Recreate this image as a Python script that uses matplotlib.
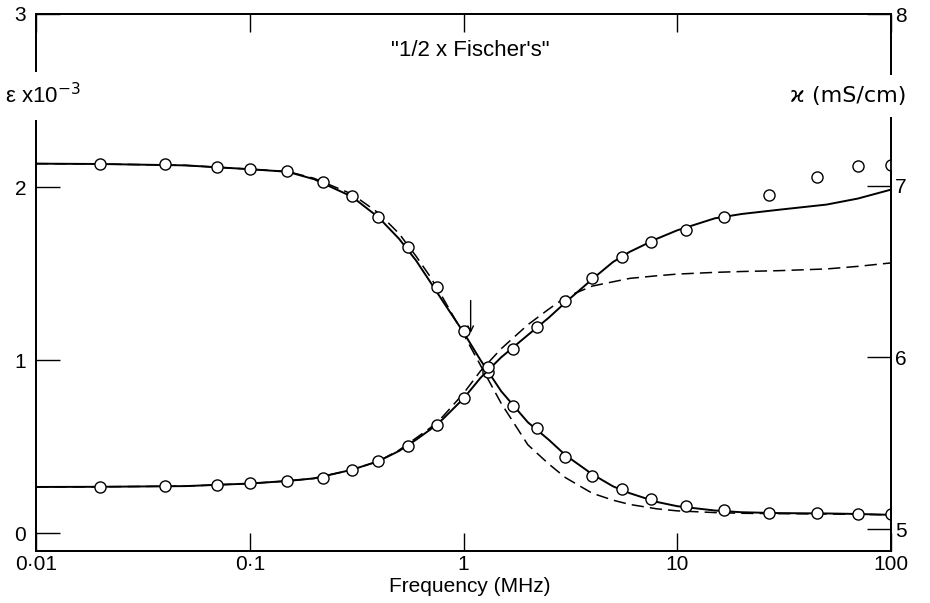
import numpy as np
import matplotlib.pyplot as plt

plt.rcParams['font.family'] = ['Liberation Sans', 'DejaVu Sans']

# measured points (frequency in MHz)
freq_pts = [0.02, 0.04, 0.07, 0.1, 0.15, 0.22, 0.3, 0.4, 0.55, 0.75, 1.0, 1.3,
            1.7, 2.2, 3.0, 4.0, 5.5, 7.5, 11, 16.5, 27, 45, 70, 100]
eps_pts = [2.133, 2.133, 2.116, 2.104, 2.092, 2.029, 1.948, 1.827, 1.653, 1.422, 1.168, 0.931,
           0.734, 0.607, 0.44, 0.33, 0.253, 0.196, 0.158, 0.133, 0.114, 0.114, 0.11, 0.11]
kappa_pts = [5.246, 5.250, 5.254, 5.269, 5.277, 5.297, 5.343, 5.395, 5.483, 5.605, 5.762, 5.942,
             6.047, 6.174, 6.326, 6.465, 6.587, 6.674, 6.744, 6.820, 6.948, 7.052, 7.116, 7.122]

# fitted curves
freq_fit = [0.01, 0.02, 0.05, 0.1, 0.15, 0.2, 0.3, 0.4, 0.5, 0.6, 0.7, 0.8, 1.0, 1.2, 1.5,
            2, 2.5, 3, 4, 5, 6, 8, 10, 15, 20, 30, 50, 70, 100]
eps_solid = [2.135, 2.133, 2.125, 2.103, 2.088, 2.045, 1.945, 1.825, 1.70, 1.575, 1.45, 1.34, 1.16, 1.00, 0.82,
             0.64, 0.54, 0.45, 0.34, 0.27, 0.23, 0.18, 0.155, 0.13, 0.12, 0.115, 0.113, 0.11, 0.105]
eps_dashed = [2.135, 2.133, 2.125, 2.103, 2.09, 2.05, 1.96, 1.85, 1.73, 1.60, 1.48, 1.36, 1.15, 0.97, 0.75,
              0.51, 0.40, 0.32, 0.23, 0.19, 0.165, 0.14, 0.128, 0.118, 0.114, 0.112, 0.11, 0.108, 0.105]
kappa_solid = [5.245, 5.246, 5.25, 5.265, 5.28, 5.295, 5.345, 5.395, 5.455, 5.52, 5.58, 5.64, 5.76, 5.88, 6.0,
               6.13, 6.23, 6.32, 6.455, 6.555, 6.615, 6.69, 6.74, 6.81, 6.835, 6.86, 6.89, 6.925, 6.977]
kappa_dashed = [5.245, 5.246, 5.25, 5.265, 5.28, 5.295, 5.345, 5.395, 5.46, 5.53, 5.59, 5.655, 5.79, 5.92, 6.05,
                6.19, 6.28, 6.35, 6.415, 6.44, 6.46, 6.475, 6.485, 6.495, 6.50, 6.505, 6.515, 6.53, 6.55]

xticks = [0.01, 0.1, 1, 10, 100]
xticklabels = ['0·01', '0·1', '1', '10', '100']

W, H = 930, 603
fig = plt.figure(figsize=(W / 100, H / 100), dpi=100)
ax = fig.add_axes([36 / W, 52 / H, 855 / W, 537 / H])
ax2 = ax.twinx()

lw = 1.4
ax.plot(freq_fit, eps_solid, 'k-', lw=lw)
ax.plot(freq_fit, eps_dashed, 'k', lw=1.1, dashes=(8, 4))
ax.plot(freq_pts, eps_pts, 'o', ms=8, mfc='white', mec='black', mew=1.0)

ax2.plot(freq_fit, kappa_solid, 'k-', lw=lw)
ax2.plot(freq_fit, kappa_dashed, 'k', lw=1.1, dashes=(8, 4))
ax2.plot(freq_pts, kappa_pts, 'o', ms=8, mfc='white', mec='black', mew=1.0)

ax.set_xscale('log')
ax.set_xlim(0.01, 100)
ax.set_ylim(-0.104, 3.0)
ax2.set_ylim(4.872, 8.0)

ax.set_xticks(xticks)
ax.set_xticklabels(xticklabels)
ax.xaxis.set_minor_locator(plt.NullLocator())
ax.set_yticks([0, 1, 2, 3])
ax2.set_yticks([5, 6, 7, 8])

ax.tick_params(axis='x', which='both', direction='in', top=True, length=13, width=1,
               labelsize=15, pad=3)
ax.tick_params(axis='y', direction='in', length=17, width=1, labelsize=15, pad=7)
ax2.tick_params(axis='y', direction='in', length=17, width=1, labelsize=15, pad=3)

for a in (ax, ax2):
    for s in a.spines.values():
        s.set_linewidth(1.3)

# arrow marking the relaxation frequency
ax.annotate('', xy=(1.08, 1.14), xytext=(1.08, 1.36),
            arrowprops=dict(arrowstyle='->', color='black', lw=1.0))

ax.text(1.08, 2.79, '"1/2 x Fischer\'s"', fontsize=16, ha='center', va='center')

fig.text(5 / W, 1 - 96 / H, 'ε x10$^{-3}$', fontsize=16, ha='left', va='center',
         bbox=dict(facecolor='white', edgecolor='none', pad=8))
fig.text(790 / W, 1 - 96 / H, 'ϰ (mS/cm)', fontsize=16, ha='left', va='center',
         family=['DejaVu Sans'],
         bbox=dict(facecolor='white', edgecolor='none', pad=8))
fig.text(470 / W, 1 - 587 / H, 'Frequency (MHz)', fontsize=15, ha='center', va='center')

fig.savefig('out.png', dpi=100)
